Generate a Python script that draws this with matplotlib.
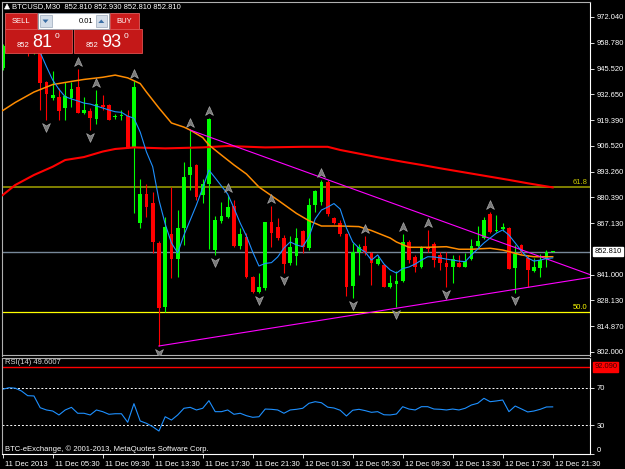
import matplotlib
matplotlib.use('Agg')
import matplotlib.pyplot as plt
import numpy as np
from matplotlib.patches import Rectangle, Polygon
from matplotlib.path import Path
from matplotlib.transforms import offset_copy, ScaledTranslation

plt.rcParams['font.family'] = ['Liberation Sans', 'DejaVu Sans']

# --- data (M30 bars, index 0 = 11 Dec 00:00) ---
header = 'BTCUSD,M30  852.810 852.930 852.810 852.810'
bid_big, bid_small = '81', '852'
ask_big, ask_small = '93', '852'
lot = '0.01'
bid = 852.81

opens = [946.0, 957.0, 963.0, 960.0, 958.0, 953.4, 956.0, 939.0, 930.6, 931.3,
         925.7, 930.6, 936.2, 923.3, 924.2, 920.0, 927.2, 927.2, 921.0, 921.4,
         921.6, 905.2, 867.5, 882.0, 877.3, 857.3, 824.8, 861.7, 848.9, 864.6,
         891.7, 896.8, 881.5, 887.1, 853.6, 868.3, 870.5, 876.0, 855.6, 860.4,
         840.1, 832.5, 834.2, 867.7, 865.1, 859.9, 846.9, 850.6, 863.4, 854.5,
         876.5, 878.1, 888.0, 870.0, 867.5, 861.7, 835.3, 852.8, 855.8, 852.0,
         846.5, 846.0, 835.0, 836.3, 837.9, 857.8, 849.9, 845.1, 855.3, 856.7,
         851.1, 847.2, 844.8, 847.2, 845.1, 848.9, 855.6, 859.6, 871.9, 863.4,
         864.1, 864.9, 844.3, 856.0, 849.4, 843.1, 844.6, 849.4, 852.81]
highs = [958.0, 966.0, 968.0, 962.0, 960.0, 959.0, 958.0, 939.4, 944.5, 935.8,
         938.9, 939.0, 945.3, 931.3, 925.5, 934.8, 932.3, 927.5, 922.5, 924.7,
         924.7, 939.4, 889.6, 887.1, 883.2, 858.0, 870.5, 885.4, 873.9, 898.4,
         914.5, 897.5, 889.6, 920.6, 870.9, 877.8, 881.5, 879.0, 864.6, 862.0,
         840.6, 841.8, 867.7, 876.0, 869.7, 861.2, 860.7, 864.6, 864.0, 879.9,
         884.1, 889.1, 889.1, 870.4, 868.8, 862.0, 857.0, 856.5, 860.7, 852.5,
         850.6, 846.5, 840.9, 843.1, 861.7, 858.5, 851.1, 855.5, 863.8, 857.8,
         852.8, 852.8, 851.1, 851.1, 851.9, 859.1, 865.8, 870.5, 873.1, 871.4,
         867.5, 865.5, 856.2, 856.5, 851.1, 849.4, 851.6, 853.6, 852.93]
lows = [945.0, 955.0, 957.0, 954.0, 952.1, 953.0, 924.7, 919.6, 930.0, 919.6,
        919.6, 926.4, 923.3, 922.6, 914.5, 917.4, 924.7, 919.6, 920.3, 919.6,
        905.2, 872.2, 864.6, 870.5, 851.9, 804.9, 822.3, 839.2, 840.1, 856.2,
        884.1, 879.0, 877.5, 854.1, 851.1, 867.5, 869.7, 855.0, 854.0, 839.3,
        831.6, 831.6, 833.3, 855.3, 858.7, 842.1, 845.9, 846.0, 851.9, 853.6,
        873.1, 876.5, 870.9, 867.0, 860.7, 830.3, 829.5, 840.9, 851.0, 835.9,
        846.0, 835.0, 834.5, 824.5, 837.5, 847.0, 842.6, 844.6, 852.8, 844.8,
        843.5, 834.7, 837.0, 844.8, 844.8, 848.5, 855.0, 859.0, 862.5, 862.9,
        863.4, 843.8, 831.6, 851.5, 835.0, 842.6, 840.1, 844.8, 852.81]
closes = [957.0, 963.0, 960.0, 958.0, 953.4, 957.0, 938.2, 932.8, 932.3, 924.2,
          931.8, 935.2, 923.3, 924.7, 920.8, 927.7, 926.4, 919.6, 921.5, 921.9,
          905.2, 936.4, 882.0, 875.4, 857.8, 824.0, 865.4, 848.9, 864.9, 890.8,
          895.9, 880.7, 887.0, 919.9, 868.8, 871.0, 875.3, 855.6, 861.7, 840.1,
          832.5, 834.7, 867.7, 862.4, 859.6, 846.4, 855.3, 859.5, 855.3, 876.5,
          883.7, 888.0, 871.9, 867.5, 861.6, 835.0, 852.8, 855.0, 852.0, 846.9,
          848.9, 835.0, 836.7, 837.9, 857.8, 848.5, 844.8, 855.0, 854.3, 848.5,
          847.2, 845.1, 849.0, 845.1, 848.0, 855.6, 858.2, 868.8, 862.9, 864.0,
          865.4, 843.8, 851.6, 852.6, 843.5, 845.1, 848.5, 852.8, 852.81]

# fast MA (blue), one value per bar from bar 2
fast_start = 2
fast_ma = [958.0, 960.0, 959.0, 957.0, 953.9, 946.7, 939.9, 935.2, 931.4, 930.3,
           929.3, 928.2, 927.7, 926.7, 925.7, 924.7, 923.8, 923.5, 921.6, 920.5,
           913.5, 903.4, 895.9, 879.0, 866.8, 857.2, 852.1, 861.2, 868.8, 876.5,
           885.1, 894.2, 890.2, 886.1, 882.0, 874.9, 867.3, 860.7, 852.6, 845.5,
           846.8, 847.2, 850.1, 854.6, 857.7, 856.2, 855.3, 860.2, 869.4, 873.9,
           875.4, 877.2, 874.4, 864.8, 857.7, 854.6, 852.6, 848.5, 851.1, 846.5,
           843.5, 841.9, 844.2, 845.0, 846.5, 848.5, 850.2, 850.1, 849.6, 849.0,
           848.5, 848.0, 847.7, 851.1, 854.1, 857.2, 859.7, 862.2, 863.8, 861.2,
           857.2, 853.1, 849.6, 848.0, 848.5, 849.3, 849.6]

# medium MA (orange), sampled bars
mid_bars = [0, 2, 5, 8, 11, 13, 16, 18, 20, 22, 23, 25, 27, 29, 30, 32, 33, 35,
            37, 39, 41, 44, 47, 49, 51, 54, 57, 59, 62, 63, 65, 68, 71, 73, 75,
            78, 80, 81, 83, 85, 88]
mid_ma = [924.4, 928.5, 933.8, 937.6, 939.2, 940.2, 941.3, 942.4, 941.0, 938.1,
          933.8, 925.7, 918.1, 916.0, 914.5, 910.7, 906.9, 901.8, 896.8, 892.2,
          885.6, 879.0, 872.2, 868.5, 865.8, 865.8, 865.5, 863.5, 859.7, 857.7,
          855.0, 855.0, 855.3, 854.0, 854.0, 854.5, 853.6, 852.8, 851.1, 850.2,
          850.2]

# slow MA (red), sampled bars
slow_bars = [0, 2, 5, 8, 10, 13, 16, 18, 21, 26, 32, 36, 42, 48, 52, 54, 60, 64,
             67, 70, 81, 84, 88]
slow_ma = [881.5, 886.6, 891.7, 895.9, 899.3, 900.8, 903.6, 904.9, 905.7, 905.2,
           905.7, 906.4, 905.7, 906.0, 906.0, 904.4, 900.7, 898.4, 896.8, 895.1,
           889.2, 887.5, 885.4]

# fractal bars
up_fractals = [12, 15, 21, 30, 33, 36, 43, 51, 58, 64, 68, 78]
down_fractals = [7, 14, 25, 34, 41, 45, 56, 63, 71, 82]

# trend lines (bar, price)
upper_x, upper_y = [30, 94], [914.5, 841.1]
lower_x, lower_y = [25, 94], [804.9, 839.7]

fib_618, fib_500 = 885.6, 822.1

price_ticks = [972.04, 958.78, 945.52, 932.65, 919.39, 906.52, 893.26, 880.39,
               867.13, 841.0, 828.13, 814.87, 802.0]

rsi = [68.3, 70.0, 69.5, 66.5, 61.5, 61.2, 48.7, 46.3, 45.2, 41.0,
       46.3, 49.1, 42.8, 42.8, 41.0, 46.3, 44.5, 41.7, 42.3, 42.3,
       33.2, 53.0, 34.6, 32.1, 28.5, 23.9, 39.1, 35.6, 41.0, 48.1,
       49.1, 46.3, 48.1, 56.2, 44.5, 44.5, 46.3, 41.7, 42.8, 40.2,
       38.5, 39.1, 47.3, 47.0, 46.3, 42.8, 46.3, 47.0, 48.1, 53.4,
       55.1, 54.0, 49.3, 48.4, 46.0, 39.9, 46.0, 47.0, 45.6, 43.8,
       44.5, 41.2, 41.0, 42.0, 49.8, 47.3, 46.3, 49.8, 49.8, 47.3,
       47.0, 46.3, 47.3, 46.3, 48.1, 51.6, 53.4, 58.7, 55.1, 55.9,
       56.9, 44.5, 50.5, 47.4, 44.2, 45.2, 47.0, 49.5, 49.6]
rsi_label = 'RSI(14) 49.6007'
rsi_red_level = 92.09

tick_bars = [0, 8, 16, 24, 32, 40, 48, 56, 64, 72, 80, 88]
time_labels = ['11 Dec 2013', '11 Dec 05:30', '11 Dec 09:30', '11 Dec 13:30',
               '11 Dec 17:30', '11 Dec 21:30', '12 Dec 01:30', '12 Dec 05:30',
               '12 Dec 09:30', '12 Dec 13:30', '12 Dec 17:30', '12 Dec 21:30']

W, H = 625, 469


def fx(px):
    return px / W


def fy(py):
    return 1 - py / H


fig = plt.figure(figsize=(6.25, 4.69), dpi=100, facecolor='black')
ax = fig.add_axes([fx(1.7), fy(355.5), (590 - 1.7) / W, (355.5 - 1.7) / H], facecolor='black')
ax_rsi = fig.add_axes([fx(1.7), fy(454.3), (590 - 1.7) / W, (454.3 - 357.7) / H], facecolor='black')

o, h, l, c = map(np.array, (opens, highs, lows, closes))
bars = np.arange(len(o))

ax.set_xlim(-0.16, 93.97)
ax.set_ylim(800.07, 979.66)

# levels
ax.axhline(fib_618, color='#808000', lw=1.4, zorder=1)
ax.axhline(fib_500, color='#ffff00', lw=0.9, zorder=1)
ax.axhline(bid, color='#778899', lw=1.0, zorder=1)
ax.text(93.6, fib_618 + 0.6, '61.8', ha='right', va='bottom', color='#c8c800', fontsize=5.5)
ax.text(93.6, fib_500 + 0.6, '50.0', ha='right', va='bottom', color='#ffff00', fontsize=5.5)

# candles
colors = np.where(c >= o, '#00ff00', '#ff0000')
ax.vlines(bars, l, h, colors=colors, lw=0.8, zorder=2)
ax.bar(bars, np.maximum(np.abs(c - o), 0.45), width=0.62, bottom=np.minimum(o, c),
       color=colors, lw=0, zorder=2.1)

# moving averages
ax.plot(slow_bars, slow_ma, color='#ff0000', lw=1.5, zorder=3)
ax.plot(mid_bars, mid_ma, color='#ff8c00', lw=1.1, zorder=3)
ax.plot(np.arange(fast_start, fast_start + len(fast_ma)), fast_ma, color='#1e90ff', lw=0.8, zorder=3.1)

# trend lines
ax.plot(upper_x, upper_y, color='#ff00ff', lw=0.8, zorder=3)
ax.plot(lower_x, lower_y, color='#ff00ff', lw=0.8, zorder=3)

# fractal arrows
arrow = [(0, 1), (0.8, -0.8), (0, -0.3), (-0.8, -0.8), (0, 1)]
codes = [Path.MOVETO, Path.LINETO, Path.LINETO, Path.LINETO, Path.CLOSEPOLY]
up_marker = Path(arrow, codes)
down_marker = Path([(x, -y) for x, y in arrow], codes)
ax.plot(up_fractals, h[up_fractals], ls='none', marker=up_marker, ms=7,
        mfc='#787878', mec='#a8a8a8', mew=0.5, zorder=4,
        transform=offset_copy(ax.transData, fig=fig, x=0, y=7, units='dots'))
ax.plot(down_fractals, l[down_fractals], ls='none', marker=down_marker, ms=7,
        mfc='#787878', mec='#a8a8a8', mew=0.5, zorder=4,
        transform=offset_copy(ax.transData, fig=fig, x=0, y=-7, units='dots'))

# price axis
ax.yaxis.tick_right()
ax.set_yticks(price_ticks)
ax.set_yticklabels(['%.3f' % p for p in price_ticks])
ax.tick_params(axis='y', colors='white', labelsize=5.4, length=3, width=0.6, pad=2)
ax.set_xticks([])
ax.annotate('%.3f' % bid, xy=(1, bid), xycoords=('axes fraction', 'data'),
            xytext=(3, 0), textcoords='offset points', ha='left', va='center',
            fontsize=5.4, color='black', annotation_clip=False,
            bbox=dict(boxstyle='square,pad=0.15', fc='white', ec='white'))

# RSI panel
ax_rsi.set_xlim(-0.16, 93.97)
ax_rsi.set_ylim(-0.85, 101.9)
ax_rsi.axhline(rsi_red_level, color='#ff0000', lw=1.0)
ax_rsi.axhline(70, color='white', lw=0.7, ls=(0, (2, 2)))
ax_rsi.axhline(30, color='white', lw=0.7, ls=(0, (2, 2)))
ax_rsi.plot(bars, rsi, color='#1e90ff', lw=0.8)
ax_rsi.yaxis.tick_right()
ax_rsi.set_yticks([0, 30, 70])
ax_rsi.set_yticklabels(['0', '30', '70'])
ax_rsi.get_yticklabels()[0].set_va('bottom')
ax_rsi.tick_params(axis='y', colors='white', labelsize=5.4, length=3, width=0.6, pad=2)
ax_rsi.annotate('%.3f' % rsi_red_level, xy=(1, rsi_red_level), xycoords=('axes fraction', 'data'),
                xytext=(3, 0), textcoords='offset points', ha='left', va='center',
                fontsize=5.4, color='#400000', annotation_clip=False,
                bbox=dict(boxstyle='square,pad=0.15', fc='#ff0000', ec='#ff0000'))

ax_rsi.set_xticks(tick_bars)
ax_rsi.set_xticklabels(time_labels)
ax_rsi.tick_params(axis='x', colors='white', labelsize=5.5, length=3, width=0.6, pad=2)
shift = ScaledTranslation(2 / 100, 0, fig.dpi_scale_trans)
for lab in ax_rsi.get_xticklabels():
    lab.set_ha('left')
    lab.set_transform(lab.get_transform() + shift)

for a in (ax, ax_rsi):
    for side, sp in a.spines.items():
        sp.set_color('white' if side in ('right', 'bottom') else '#b0b0b0')
        sp.set_linewidth(0.8)
ax.spines['bottom'].set_color('#b0b0b0')

fig.text(fx(5), fy(362.5), rsi_label, color='#d8d8d8', fontsize=5.5, va='center')
fig.text(fx(5), fy(449), 'BTC-eExchange, \u00a9 2001-2013, MetaQuotes Software Corp.',
         color='white', fontsize=5.5, va='center')

# header line
fig.add_artist(Polygon([(fx(4.5), fy(9)), (fx(9.5), fy(9)), (fx(7), fy(4))],
                       closed=True, transform=fig.transFigure, fc='white', ec='white', lw=0.5, zorder=11))
fig.text(fx(12), fy(7), header, color='white', fontsize=5.5, va='center', zorder=11)


# one-click trading panel
def box(x0, y0, x1, y1, fc, ec=None, lw=0.6):
    fig.add_artist(Rectangle((fx(x0), fy(y1)), (x1 - x0) / W, (y1 - y0) / H,
                             transform=fig.transFigure, fc=fc, ec=ec or fc, lw=lw, zorder=10))


box(5, 13.5, 36.5, 29, '#cc1c1c', '#e06060')
box(110, 13.5, 138.5, 29, '#cc1c1c', '#e06060')
box(5, 29.5, 72.5, 53, '#c41818', '#e05050')
box(74, 29.5, 141.5, 53, '#c41818', '#e05050')
box(38, 13.5, 108.5, 29, 'white', '#9aa4b0')
box(39.5, 15.5, 51.5, 27, '#d4dde8', '#a8b4c4')
box(95.5, 15.5, 107, 27, '#d4dde8', '#a8b4c4')
fig.add_artist(Polygon([(fx(42.5), fy(19.5)), (fx(48.5), fy(19.5)), (fx(45.5), fy(23))],
                       closed=True, transform=fig.transFigure, fc='#3a6ea5', ec='none', zorder=11))
fig.add_artist(Polygon([(fx(98.3), fy(23)), (fx(104.3), fy(23)), (fx(101.3), fy(19.5))],
                       closed=True, transform=fig.transFigure, fc='#3a6ea5', ec='none', zorder=11))

txt = dict(color='white', zorder=12)
fig.text(fx(20.5), fy(21.5), 'SELL', fontsize=5.5, ha='center', va='center', **txt)
fig.text(fx(124.3), fy(21.5), 'BUY', fontsize=5.5, ha='center', va='center', **txt)
fig.text(fx(93), fy(21.5), lot, fontsize=5.5, ha='right', va='center', color='black', zorder=12)
fig.text(fx(16.5), fy(46.8), bid_small, fontsize=5.5, ha='left', va='baseline', **txt)
fig.text(fx(32.5), fy(47.3), bid_big, fontsize=13, ha='left', va='baseline', **txt)
fig.text(fx(55), fy(32.5), '0', fontsize=6, ha='left', va='top', **txt)
fig.text(fx(85.5), fy(46.8), ask_small, fontsize=5.5, ha='left', va='baseline', **txt)
fig.text(fx(101.5), fy(47.3), ask_big, fontsize=13, ha='left', va='baseline', **txt)
fig.text(fx(124), fy(32.5), '0', fontsize=6, ha='left', va='top', **txt)

fig.savefig('out.png', dpi=100, facecolor='black')
